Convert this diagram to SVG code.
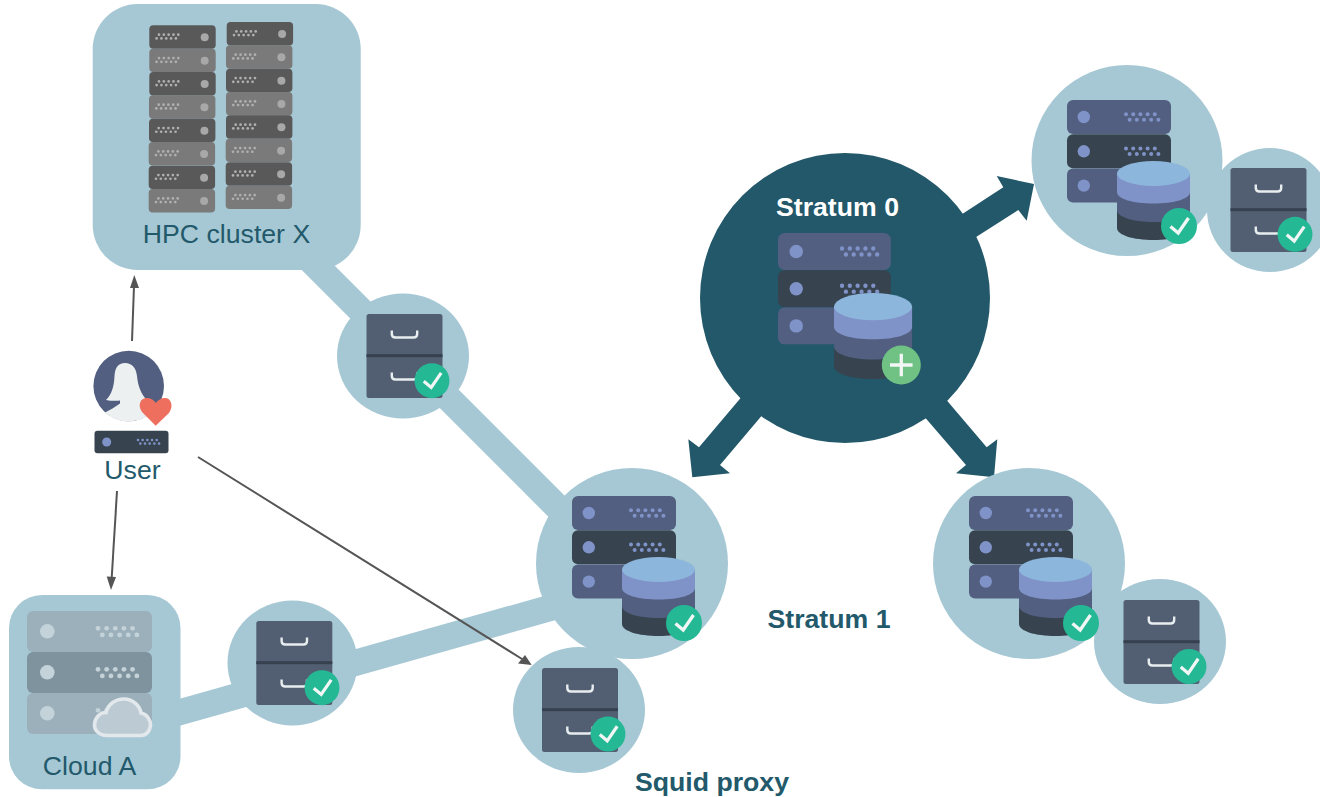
<svg xmlns="http://www.w3.org/2000/svg" width="1320" height="797" viewBox="0 0 1320 797">
<style>
.t{font-family:"Liberation Sans",Arial,sans-serif;fill:#22596b;font-size:26.67px}
.b{font-weight:700}
.bg{fill:#a6c8d4}
.thin{stroke:#555;stroke-width:2;fill:none}
.ah{fill:#555}
.dk{fill:#225869}
.pa{fill:#525f80}
.pb{fill:#37444f}
.led{fill:#8093c8}
.gd{fill:#b0b0b0}
.cd{fill:#c4d3da}
.cr{fill:#9bb0bb}
</style>
<defs>
<g id="dots"><circle cx="0" cy="0" r="2"/><circle cx="7.2" cy="0" r="2"/><circle cx="14.4" cy="0" r="2"/><circle cx="21.6" cy="0" r="2"/><circle cx="28.8" cy="0" r="2"/><circle cx="3.6" cy="5.500" r="2"/><circle cx="10.800" cy="5.500" r="2"/><circle cx="18" cy="5.500" r="2"/><circle cx="25.200" cy="5.500" r="2"/><circle cx="32.400" cy="5.500" r="2"/></g>
<g id="row-a"><rect width="104" height="34" rx="6" class="pa"/><circle cx="16.800" cy="17" r="6.200" class="led"/><use href="#dots" x="59" y="14.300" class="led"/></g>
<g id="row-b"><rect width="104" height="34" rx="6" class="pb"/><circle cx="16.800" cy="17" r="6.200" class="led"/><use href="#dots" x="59" y="14.300" class="led"/></g>
<g id="db">
<path d="M0 12V67C0 74 16 79 36.500 79S73 74 73 67V12Z" fill="#37444f"/>
<path d="M0 12V49C0 56 16 61 36.500 61S73 56 73 49V12Z" fill="#525f80"/>
<path d="M0 12V31C0 38 16 42.500 36.500 42.500S73 38 73 31V12Z" fill="#8093c8"/>
<ellipse cx="36.500" cy="12.500" rx="36.500" ry="12.500" fill="#8db6dc"/>
</g>
<g id="rows"><use href="#row-a"/><use href="#row-b" y="34.300"/><use href="#row-a" y="68.600"/></g>
<g id="stack"><use href="#rows"/><use href="#db" x="50" y="61"/></g>
<g id="check"><circle r="18" fill="#24b894"/><path d="M-8.500 0.500L-0.800 7L9.500 -8" fill="none" stroke="#f2f6f5" stroke-width="3.300"/></g>
<g id="cab"><rect width="76" height="84" rx="2.500" fill="#525f72"/><rect y="40.200" width="76" height="3" fill="#37404f"/><path d="M25.300 16.500V20Q25.300 23.500 29 23.500H47Q50.700 23.500 50.700 20V16.500" fill="none" stroke="#e8eef0" stroke-width="2.400"/><path d="M25.300 58.500V62Q25.300 65.500 29 65.500H47Q50.700 65.500 50.700 62V58.500" fill="none" stroke="#e8eef0" stroke-width="2.400"/></g>
<g id="check-s"><use href="#check" transform="scale(.97)"/></g>
<g id="gdots"><g class="gd" transform="translate(29 9.400) scale(-.67 .67)"><use href="#dots"/></g></g>
<g id="urow"><rect width="66.400" height="23.400" rx="4" fill="#595959"/><circle cx="55.400" cy="12" r="4" fill="#a8a8a8"/><use href="#gdots"/></g>
<g id="urow2"><rect width="66.400" height="23.400" rx="4" fill="#7a7a7a"/><circle cx="55.400" cy="12" r="4" fill="#a8a8a8"/><use href="#gdots"/></g>
</defs>
<rect width="1320" height="797" fill="#fff"/>
<g id="connectors">
<path class="bg" d="M300 268.300L334 265L580 511L560 528.300Z"/>
<path class="bg" d="M170 701.500L560 591.500L570 616L170 728.500Z"/>
<path class="dk" d="M950 222L1003.300 187.300L996.700 176L1034 184L1026.700 220.700L1018.300 210L962 246Z"/>
<path class="dk" d="M755 381L699 447.300L688.300 439.300L692.300 477.300L730 473.300L720 465L775 400Z"/>
<path class="dk" d="M932 383L986.700 447.300L997.300 439.300L994 477.300L956 473.300L966 465L910 400Z"/>
<path class="thin" d="M132 341L134 286"/>
<path class="ah" d="M134.300 275L139 288L130 288Z"/>
<path class="thin" d="M117 491L111.700 578"/>
<path class="ah" d="M111 590L106.700 576.500L116 577Z"/>
<path class="thin" d="M198 457L522 659"/>
<path class="ah" d="M531.700 665L518 663.500L525 655Z"/>
</g>
<g id="hpc"><rect x="92.700" y="4" width="268" height="266" rx="45" class="bg"/>
<use href="#urow" x="149.300" y="25.300"/><use href="#urow2" x="149.300" y="48.700"/><use href="#urow" x="149.300" y="72"/><use href="#urow2" x="149" y="95.300"/><use href="#urow" x="149" y="118.700"/><use href="#urow2" x="148.700" y="142"/><use href="#urow" x="148.700" y="165.700"/><use href="#urow2" x="148.700" y="189"/>
<use href="#urow" x="226.700" y="22"/><use href="#urow2" x="226" y="45.300"/><use href="#urow" x="226" y="68.700"/><use href="#urow2" x="226" y="92"/><use href="#urow" x="226" y="115.300"/><use href="#urow2" x="225.700" y="138.700"/><use href="#urow" x="225.700" y="162.300"/><use href="#urow2" x="225.700" y="185.700"/>
<text x="226.500" y="243" text-anchor="middle" class="t">HPC cluster X</text></g>
<g id="proxy-hpc"><ellipse cx="403" cy="356" rx="66" ry="62.500" class="bg"/><use href="#cab" x="366.500" y="314"/><use href="#check-s" x="432" y="380.700"/></g>
<g id="user"><circle cx="128.700" cy="386" r="35.300" fill="#525f80"/>
<path d="M125 363C118 363 115 368 114.500 376C114 386 112 394 106 400C111 401 116 401 120 400.500L120 403.500C115 407 110 410 105 412.500A35.300 35.300 0 0 0 155 409.500C150 407 145 405 141 403L141 400.500C143 401 146 401 147 400C141 394 138 386 137 376C136 368 132 363 125 363Z" fill="#ecf0f1"/>
<path d="M155.700 425.700L143 413C137 406 140 398 147 398C151 398 154 400 155.700 403C158 400 161 398 165 398C171 398 174 406 169 413Z" fill="#ee6f5e"/>
<rect x="94.500" y="430.700" width="74" height="22.600" rx="3" fill="#37444f"/><circle cx="106.700" cy="442" r="4.500" fill="#8093c8"/><g transform="translate(138 440) scale(.65)" class="led"><use href="#dots"/></g>
<text x="132.500" y="479" text-anchor="middle" class="t">User</text></g>
<g id="cloud"><rect x="9" y="595" width="171.500" height="194.300" rx="33" class="bg"/>
<rect x="27" y="611" width="125" height="41" rx="6" class="cr"/><rect x="27" y="652" width="125" height="41" rx="6" fill="#7f939e"/><rect x="27" y="693" width="125" height="41" rx="6" class="cr"/>
<circle cx="47.300" cy="631.300" r="7.300" class="cd"/><circle cx="47.300" cy="672.300" r="7.300" class="cd"/><circle cx="47.300" cy="713.300" r="7.300" class="cd"/>
<g class="cd" transform="translate(98 628.300) scale(1.2)"><use href="#dots"/></g><g class="cd" transform="translate(98 669.300) scale(1.2)"><use href="#dots"/></g><g class="cd" transform="translate(98 710.300) scale(1.2)"><use href="#dots"/></g>
<path d="M107 735.500C98 735.500 94 729 94.500 724C95 717 101 712 106 712.500C108 704 116 699 124 699C133 699 140 706 141 713C147 714 150.500 720 150.500 725C150.500 731 146 735.500 141 735.500Z" fill="#bccbd3" stroke="#e2e8eb" stroke-width="3.600"/>
<text x="89.500" y="775" text-anchor="middle" class="t">Cloud A</text></g>
<g id="proxy-cloud"><ellipse cx="292.500" cy="663" rx="65" ry="62.500" class="bg"/><use href="#cab" x="256.300" y="621"/><use href="#check-s" x="322" y="687.700"/></g>
<g id="s1-main"><ellipse cx="632" cy="563.500" rx="96" ry="95.500" class="bg"/><use href="#stack" x="572" y="496"/><use href="#check" x="684" y="623"/></g>
<g id="proxy-user"><ellipse cx="579" cy="710" rx="66" ry="63" class="bg"/><use href="#cab" x="542" y="668"/><use href="#check-s" x="608" y="734"/></g>
<g id="stratum0"><circle cx="845" cy="298" r="145" class="dk"/>
<g transform="translate(778 233) scale(1.085)"><use href="#rows"/></g>
<g transform="translate(834 293) scale(1.07 1.09)"><use href="#db"/></g>
<circle cx="901.300" cy="365" r="19.500" fill="#6fc283"/><path d="M901.300 353.700V376.300M890 365H912.600" stroke="#f2f6f5" stroke-width="3.300"/>
<text x="837.500" y="215.500" text-anchor="middle" class="t b" style="fill:#fff">Stratum 0</text></g>
<g id="s1-tr-proxy"><ellipse cx="1270" cy="210" rx="63" ry="62" class="bg"/></g>
<g id="s1-tr"><ellipse cx="1127" cy="160.500" rx="95.500" ry="95.500" class="bg"/><use href="#stack" x="1067" y="100"/><use href="#check" x="1179" y="226"/></g>
<g id="proxy-tr"><use href="#cab" x="1230.500" y="168"/><use href="#check-s" x="1295" y="234.300"/></g>
<g id="s1-br-proxy"><ellipse cx="1160" cy="641.500" rx="66" ry="62.500" class="bg"/></g>
<g id="s1-br"><ellipse cx="1029" cy="563.500" rx="96" ry="95.500" class="bg"/><use href="#stack" x="969" y="496"/><use href="#check" x="1081" y="623"/></g>
<g id="proxy-br"><use href="#cab" x="1123.500" y="600"/><use href="#check-s" x="1189" y="666.500"/></g>
<text x="829" y="628" text-anchor="middle" class="t b">Stratum 1</text>
<text x="712" y="791" text-anchor="middle" class="t b">Squid proxy</text>
</svg>
